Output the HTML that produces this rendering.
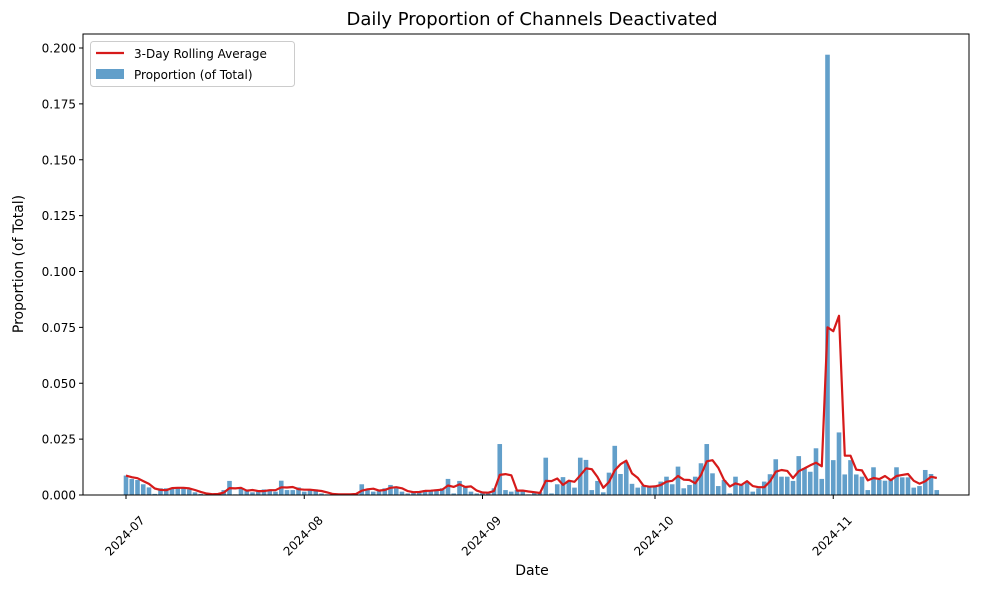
<!DOCTYPE html>
<html><head><meta charset="utf-8"><style>
body{margin:0;background:#fff}
svg{display:block;font-family:"DejaVu Sans","Liberation Sans",sans-serif}
</style></head><body>
<svg id="s" width="988" height="589" viewBox="0 0 988 589" xmlns="http://www.w3.org/2000/svg">
<rect width="988" height="589" fill="#fff"/>
<text x="532" y="25" font-size="18" text-anchor="middle" fill="#000">Daily Proportion of Channels Deactivated</text>
<g id="bars"></g>
<polyline id="line" fill="none" stroke="#d61a1a" stroke-width="2.2" stroke-linejoin="round"/>
<rect x="83" y="34" width="886" height="461" fill="none" stroke="#000" stroke-width="1"/>
<g id="yt" font-size="12" text-anchor="end"></g>
<g id="xt" font-size="12" text-anchor="middle"></g>
<text x="532" y="575" font-size="14" text-anchor="middle">Date</text>
<text transform="translate(23,264) rotate(-90)" font-size="14" text-anchor="middle">Proportion (of Total)</text>
<rect x="90.5" y="41.5" width="204" height="45" rx="3" fill="#fff" fill-opacity="0.8" stroke="#ccc"/>
<line x1="96" y1="53" x2="124" y2="53" stroke="#d61a1a" stroke-width="2.2"/>
<rect x="96" y="69" width="28" height="10" fill="#629fca"/>
<text x="134" y="58" font-size="12">3-Day Rolling Average</text>
<text x="134" y="79" font-size="12">Proportion (of Total)</text>
</svg>
<script>
var v=[8.7,7.2,6.7,4.8,3.4,0.5,3,3,3.3,3.3,3,2.5,1.2,0.5,0.3,0.3,0.7,2.2,6.3,0.3,3,2.5,1.2,1.5,2.5,2.5,1.5,6.4,2.2,2.2,3.4,
1.5,2.2,2.5,0.7,0.3,0.3,0.3,0.3,0.3,0.7,4.8,2.2,1.5,2.2,3,4.5,3,1.5,0.7,1.5,1.8,2.2,1.8,2.5,3,7.2,0.7,6.3,3.7,1.5,0.7,
1.2,1.2,3,22.8,2.2,1.5,2.2,2.2,0.3,1.2,1.2,16.7,0.7,4.8,8,6.4,3.3,16.7,15.7,2.2,6.3,1.2,10,22,9.4,14.6,5,3.3,4.2,3.7,
3.7,6,8.2,4.8,12.7,3,4.5,8.2,14.2,22.8,9.7,4,6.7,0.7,8.2,4.5,6,1.5,3,6,9.3,16,8.2,8.2,6.3,17.4,12,10.4,20.9,7.2,197,
15.6,28,9.2,15.6,9.2,8.2,2.2,12.4,6.7,6.4,6.7,12.4,7.9,7.9,3.3,4,11.2,9.4,2.2];
var NS="http://www.w3.org/2000/svg";
function el(t,a,p){var e=document.createElementNS(NS,t);for(var k in a)e.setAttribute(k,a[k]);p.appendChild(e);return e;}
var X=function(d){return 126+d*5.75}, Y=function(u){return 495-u*2.235};
var g=document.getElementById('bars'),pts=[];
for(var i=0;i<v.length;i++){
 el('rect',{x:X(i)-2.3,y:Y(v[i]),width:4.6,height:v[i]*2.235,fill:'#629fca'},g);
 var s=0,n=0;for(var j=Math.max(0,i-2);j<=i;j++){s+=v[j];n++;}
 pts.push(X(i).toFixed(1)+','+Y(s/n).toFixed(1));
}
document.getElementById('line').setAttribute('points',pts.join(' '));
var yt=document.getElementById('yt');
for(var k=0;k<=8;k++){var u=k*25,y=Y(u);
 el('line',{x1:79,x2:83,y1:y,y2:y,stroke:'#000'},yt);
 el('text',{x:76,y:y+4.5},yt).textContent=(u/1000).toFixed(3);}
var xt=document.getElementById('xt'),L=[['2024-07',0],['2024-08',31],['2024-09',62],['2024-10',92],['2024-11',123]];
L.forEach(function(q){var x=X(q[1]);
 el('line',{x1:x,x2:x,y1:495,y2:499,stroke:'#000'},xt);
 el('text',{transform:'translate('+(x-1)+',536) rotate(-45)',y:4},xt).textContent=q[0];});
</script>
</body></html>
